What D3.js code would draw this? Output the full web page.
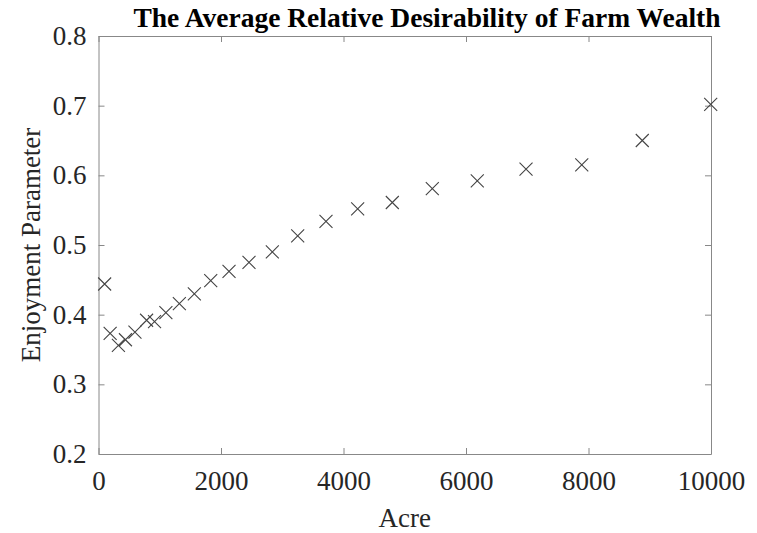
<!DOCTYPE html>
<meta charset="utf-8">
<style>
body { margin: 0; background: #fff; }
text { font-family: "Liberation Serif", "Times New Roman", serif; fill: #262626; }
.axis path, .axis line { stroke: #888; }
.mark { stroke: #444; stroke-width: 1.1; fill: none; }
</style>
<svg width="757" height="533"></svg>
<script src="https://d3js.org/d3.v7.min.js"></script>
<script>

// values
var acres = [100, 190, 325, 440, 595, 785, 915, 1100, 1320, 1565, 1832, 2131, 2457, 2838, 3252, 3714, 4231, 4797, 5450, 6184, 6980, 7890, 8878, 9995];
var enjoyment = [0.444, 0.373, 0.356, 0.364, 0.375, 0.392, 0.390, 0.403, 0.416, 0.430, 0.449, 0.462, 0.475, 0.490, 0.513, 0.534, 0.552, 0.561, 0.581, 0.592, 0.609, 0.615, 0.650, 0.702];
var xTicks = [0, 2000, 4000, 6000, 8000, 10000];
var yTicks = [0.2, 0.3, 0.4, 0.5, 0.6, 0.7, 0.8];

var svg = d3.select("svg"),
    margin = {top: 36, right: 46, bottom: 79, left: 98.5},
    width = 711 - margin.left,
    height = 454 - margin.top;

var x = d3.scaleLinear().domain([0, 10000]).range([0, width]),
    y = d3.scaleLinear().domain([0.2, 0.8]).range([height, 0]);

var g = svg.append("g")
    .attr("transform", "translate(" + margin.left + "," + margin.top + ")");

// box with inward ticks on all four sides
g.append("g").attr("class", "axis")
    .attr("transform", "translate(0," + height + ")")
    .call(d3.axisBottom(x).tickValues(xTicks).tickSizeInner(-6).tickSizeOuter(0).tickPadding(17).tickFormat(d3.format("d")))
    .selectAll("text").style("font-size", "27px");
g.append("g").attr("class", "axis")
    .call(d3.axisTop(x).tickValues(xTicks).tickSizeInner(-6).tickSizeOuter(0).tickFormat(""));
g.append("g").attr("class", "axis")
    .call(d3.axisLeft(y).tickValues(yTicks).tickSizeInner(-6).tickSizeOuter(0).tickPadding(12).tickFormat(d3.format(".1f")))
    .selectAll("text").style("font-size", "27px");
g.append("g").attr("class", "axis")
    .attr("transform", "translate(" + width + ",0)")
    .call(d3.axisRight(y).tickValues(yTicks).tickSizeInner(-6).tickSizeOuter(0).tickFormat(""));

g.selectAll(".axis .domain").attr("stroke", "#888");

var pts = acres.map(function(a, i) { return [a, enjoyment[i]]; });
var s = 6.5;
g.selectAll(".mark")
  .data(pts)
  .enter().append("path")
    .attr("class", "mark")
    .attr("d", function(d) {
      var cx = x(d[0]), cy = y(d[1]);
      return "M" + (cx - s) + "," + (cy - s) + "L" + (cx + s) + "," + (cy + s) +
             "M" + (cx - s) + "," + (cy + s) + "L" + (cx + s) + "," + (cy - s);
    });

svg.append("text")
    .attr("x", 427)
    .attr("y", 27)
    .attr("text-anchor", "middle")
    .style("font-size", "27.5px")
    .style("font-weight", "bold")
    .style("fill", "#000")
    .text("The Average Relative Desirability of Farm Wealth");

svg.append("text")
    .attr("x", margin.left + width / 2)
    .attr("y", 527)
    .attr("text-anchor", "middle")
    .style("font-size", "27px")
    .text("Acre");

svg.append("text")
    .attr("transform", "translate(40," + (margin.top + height / 2) + ") rotate(-90)")
    .attr("text-anchor", "middle")
    .style("font-size", "27px")
    .text("Enjoyment Parameter");

</script>
